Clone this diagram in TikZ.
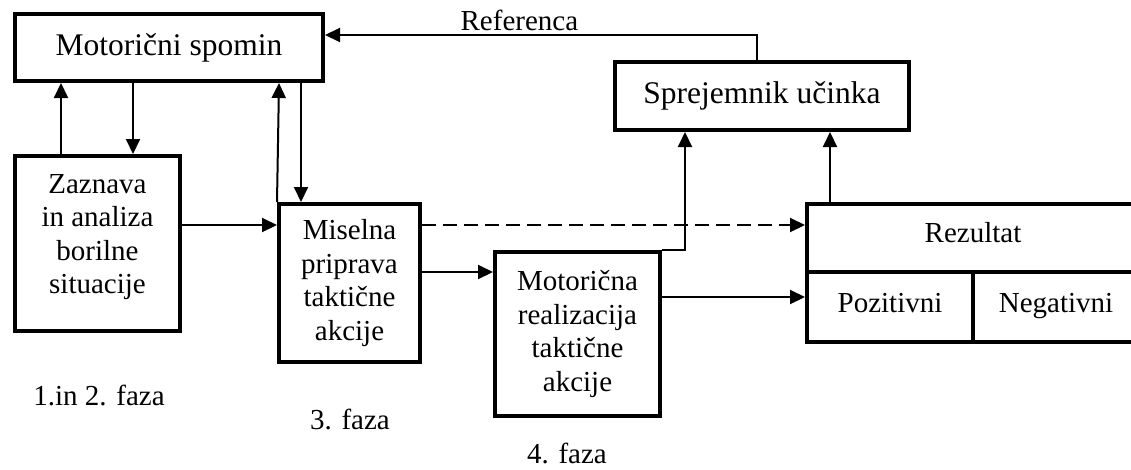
\documentclass[tikz,border=0pt]{standalone}
\usepackage{fontspec}
\setmainfont{Liberation Serif}
\usetikzlibrary{arrows.meta}

\newcommand{\bigtxt}{\fontsize{31.5}{36}\selectfont}
\newcommand{\boxtxt}{\fontsize{29}{33.5}\selectfont}

\tikzset{
  box/.style={draw, line width=4pt, inner sep=0pt, align=center, font=\boxtxt},
  txt/.style={inner sep=0pt, align=center, font=\boxtxt},
  link/.style={line width=2pt},
  arr/.style={link, -{Triangle[length=15pt,width=14pt]}},
}

\begin{document}
\begin{tikzpicture}[x=1pt, y=-1pt]
  \useasboundingbox (0,0) rectangle (1131,469);

  % boxes
  \node[box, font=\bigtxt, minimum width=308pt, minimum height=67pt] (spomin) at (169,47.5) {Motori\v{c}ni spomin};
  \node[box, font=\bigtxt, minimum width=294pt, minimum height=68pt] (sprej) at (762,96) {Sprejemnik u\v{c}inka};
  \node[box, minimum width=165pt, minimum height=175pt] (zaz) at (97.5,243.5) {};
  \node[txt] (zazt) at (97.5,237) {Zaznava\\in analiza\\borilne\\situacije};
  \node[box, minimum width=141pt, minimum height=158pt] (misel) at (349.5,283) {Miselna\\priprava\\takti\v{c}ne\\akcije};
  \node[box, minimum width=165pt, minimum height=164pt] (motor) at (577.5,334) {Motori\v{c}na\\realizacija\\takti\v{c}ne\\akcije};

  % result table (its right side runs past the edge)
  \node[box, minimum width=332pt, minimum height=68pt] (rez) at (973,238) {};
  \node[box, minimum width=166pt, minimum height=70pt] (poz) at (890,307) {};
  \node[box, minimum width=166pt, minimum height=70pt] (neg) at (1056,307) {};
  \node[txt, anchor=base] (rezt) at (973,242) {Rezultat};
  \node[txt, anchor=base] (pozt) at (890,312) {Pozitivni};
  \node[txt, anchor=base] (negt) at (1056,312) {Negativni};

  % phase labels
  \node[txt, anchor=base] (f12) at (99,405) {1.in 2. faza};
  \node[txt, anchor=base] (f3) at (350,429) {3. faza};
  \node[txt, anchor=base] (f4) at (567,463) {4. faza};

  % connectors
  \draw[arr] ([xshift=-36.5pt]zaz.north) -- ([xshift=-108pt]spomin.south);
  \draw[arr] ([xshift=-36pt]spomin.south) -- ([xshift=35.5pt]zaz.north);
  \draw[arr] (misel.north west) -- ([xshift=110pt]spomin.south);
  \draw[arr] ([xshift=132pt]spomin.south) -- ([xshift=-48.5pt]misel.north);
  \draw[arr] ([yshift=18.5pt]zaz.east) -- ([yshift=58pt]misel.west);
  \draw[arr, dash pattern=on 14pt off 7pt] ([yshift=58pt]misel.east) -- ([yshift=13pt]rez.west);
  \draw[arr] ([yshift=11pt]misel.east) -- ([yshift=62pt]motor.west);
  \draw[arr] ([yshift=37pt]motor.east) -- ([yshift=10pt]poz.west);
  \draw[arr] (motor.north east) -| ([xshift=-77pt]sprej.south);
  \draw[arr] ([xshift=-143pt]rez.north) -- ([xshift=68pt]sprej.south);
  \draw[arr] ([xshift=-5pt]sprej.north) |- ([yshift=12.5pt]spomin.east)
    node[pos=0.775, above=3pt, inner sep=0pt, font=\boxtxt] (reftxt) {Referenca};
\end{tikzpicture}
\end{document}
